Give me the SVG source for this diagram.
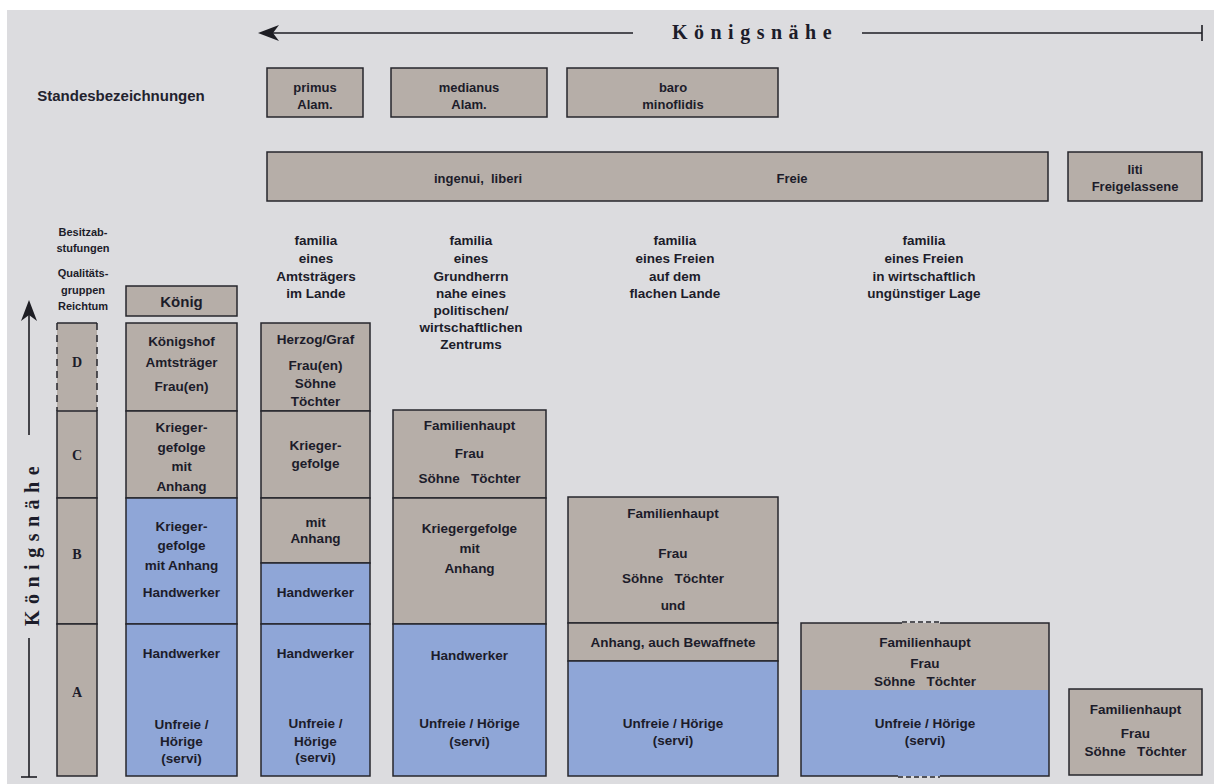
<svg xmlns="http://www.w3.org/2000/svg" width="1214" height="784" viewBox="0 0 1214 784">
<style>
.bx{stroke:#26262c;stroke-width:1.5}
.g{fill:#b6aea8}
.b{fill:#8fa6d7}
.ln{stroke:#1e1e24;stroke-width:1.6;fill:none}
text{font-family:"Liberation Sans",Arial,sans-serif;fill:#1c1c2a;text-anchor:middle;dominant-baseline:central}
.t{font-size:13.5px;font-weight:bold}
.s{font-size:13px;font-weight:bold}
.sm{font-size:11px;font-weight:bold}
.k{font-family:"Liberation Serif","Times New Roman",serif;font-size:20px;font-weight:bold;letter-spacing:6.5px}
.L{font-family:"Liberation Serif","Times New Roman",serif;font-size:14px;font-weight:bold}
</style>
<rect width="1214" height="784" fill="#ffffff"/>
<rect x="7" y="10" width="1207" height="774" fill="#dcdcdf"/>

<g id="connectors">
  <line class="ln" x1="270" y1="33" x2="633" y2="33"/>
  <polygon points="258,33 279,25 273,33 279,41" fill="#1e1e24"/>
  <line class="ln" x1="862" y1="33" x2="1202" y2="33"/>
  <line class="ln" x1="1202" y1="25" x2="1202" y2="41"/>
  <line class="ln" x1="29" y1="312" x2="29" y2="435"/>
  <polygon points="29,300 21,321 29,315 37,321" fill="#1e1e24"/>
  <line class="ln" x1="29" y1="638" x2="29" y2="777"/>
  <line class="ln" x1="21" y1="777" x2="37" y2="777"/>
</g>

<g id="title-top"><text class="k" x="755" y="32">Königsnähe</text></g>
<g id="title-left"><text class="k" transform="translate(32,543) rotate(-90)">Königsnähe</text></g>

<g id="standes-label"><text x="121" y="95" style="font-size:15px;font-weight:bold;fill:#22222e">Standesbezeichnungen</text></g>

<g id="primus"><rect class="bx g" x="267" y="68" width="96" height="49"/><text class="s" x="315" y="87">primus</text><text class="s" x="315" y="104">Alam.</text></g>
<g id="medianus"><rect class="bx g" x="391" y="68" width="156" height="49"/><text class="s" x="469" y="87">medianus</text><text class="s" x="469" y="104">Alam.</text></g>
<g id="baro"><rect class="bx g" x="567" y="68" width="211" height="49"/><text class="s" x="673" y="87">baro</text><text class="s" x="673" y="104">minoflidis</text></g>

<g id="freie"><rect class="bx g" x="267" y="152" width="781" height="49"/><text class="s" x="478" y="178" xml:space="preserve">ingenui,  liberi</text><text class="s" x="792" y="178">Freie</text></g>
<g id="liti"><rect class="bx g" x="1068" y="152" width="134" height="49"/><text class="s" x="1135" y="169">liti</text><text class="s" x="1135" y="186">Freigelassene</text></g>

<g id="left-labels">
  <text class="sm" x="83" y="232">Besitzab-</text>
  <text class="sm" x="83" y="248">stufungen</text>
  <text class="sm" x="83" y="273">Qualitäts-</text>
  <text class="sm" x="83" y="290">gruppen</text>
  <text class="sm" x="83" y="306">Reichtum</text>
</g>

<g id="header-amtstraeger">
  <text class="t" x="316" y="240">familia</text><text class="t" x="316" y="258">eines</text><text class="t" x="316" y="276">Amtsträgers</text><text class="t" x="316" y="293">im Lande</text>
</g>
<g id="header-grundherr">
  <text class="t" x="471" y="240">familia</text><text class="t" x="471" y="258">eines</text><text class="t" x="471" y="276">Grundherrn</text><text class="t" x="471" y="293">nahe eines</text><text class="t" x="471" y="310">politischen/</text><text class="t" x="471" y="327">wirtschaftlichen</text><text class="t" x="471" y="344">Zentrums</text>
</g>
<g id="header-freier-land">
  <text class="t" x="675" y="240">familia</text><text class="t" x="675" y="258">eines Freien</text><text class="t" x="675" y="276">auf dem</text><text class="t" x="675" y="293">flachen Lande</text>
</g>
<g id="header-freier-arm">
  <text class="t" x="924" y="240">familia</text><text class="t" x="924" y="258">eines Freien</text><text class="t" x="924" y="276">in wirtschaftlich</text><text class="t" x="924" y="293">ungünstiger Lage</text>
</g>

<g id="stufen">
  <rect class="g" x="57" y="323" width="40" height="88"/>
  <line class="bx" x1="57" y1="323" x2="97" y2="323"/>
  <line class="bx" x1="57" y1="323" x2="57" y2="411" stroke-dasharray="7,5"/>
  <line class="bx" x1="97" y1="323" x2="97" y2="411" stroke-dasharray="7,5"/>
  <text class="L" x="77" y="362">D</text>
  <rect class="bx g" x="57" y="411" width="40" height="87"/><text class="L" x="77" y="455">C</text>
  <rect class="bx g" x="57" y="498" width="40" height="126"/><text class="L" x="77" y="554">B</text>
  <rect class="bx g" x="57" y="624" width="40" height="152"/><text class="L" x="77" y="692">A</text>
</g>

<g id="koenig"><rect class="bx g" x="126" y="286" width="111" height="30"/><text x="181.5" y="301" style="font-size:15px;font-weight:bold">König</text></g>

<g id="col-koenigshof">
  <rect class="bx g" x="126" y="323" width="111" height="88"/>
  <text class="t" x="181.5" y="341">Königshof</text><text class="t" x="181.5" y="362">Amtsträger</text><text class="t" x="181.5" y="386">Frau(en)</text>
  <rect class="bx g" x="126" y="411" width="111" height="87"/>
  <text class="t" x="181.5" y="427">Krieger-</text><text class="t" x="181.5" y="447">gefolge</text><text class="t" x="181.5" y="466">mit</text><text class="t" x="181.5" y="486">Anhang</text>
  <rect class="bx b" x="126" y="498" width="111" height="126"/>
  <text class="t" x="181.5" y="526">Krieger-</text><text class="t" x="181.5" y="545">gefolge</text><text class="t" x="181.5" y="565">mit Anhang</text><text class="t" x="181.5" y="592">Handwerker</text>
  <rect class="bx b" x="126" y="624" width="111" height="152"/>
  <text class="t" x="181.5" y="653">Handwerker</text><text class="t" x="181.5" y="724">Unfreie /</text><text class="t" x="181.5" y="741">Hörige</text><text class="t" x="181.5" y="758">(servi)</text>
</g>

<g id="col-amtstraeger">
  <rect class="bx g" x="261" y="323" width="109" height="88"/>
  <text class="t" x="315.5" y="339">Herzog/Graf</text><text class="t" x="315.5" y="365">Frau(en)</text><text class="t" x="315.5" y="383">Söhne</text><text class="t" x="315.5" y="401">Töchter</text>
  <rect class="bx g" x="261" y="411" width="109" height="87"/>
  <text class="t" x="315.5" y="445">Krieger-</text><text class="t" x="315.5" y="463">gefolge</text>
  <rect class="bx g" x="261" y="498" width="109" height="65"/>
  <text class="t" x="315.5" y="522">mit</text><text class="t" x="315.5" y="538">Anhang</text>
  <rect class="bx b" x="261" y="563" width="109" height="61"/>
  <text class="t" x="315.5" y="592">Handwerker</text>
  <rect class="bx b" x="261" y="624" width="109" height="152"/>
  <text class="t" x="315.5" y="653">Handwerker</text><text class="t" x="315.5" y="723">Unfreie /</text><text class="t" x="315.5" y="741">Hörige</text><text class="t" x="315.5" y="757">(servi)</text>
</g>

<g id="col-grundherr">
  <rect class="bx g" x="393" y="410" width="153" height="88"/>
  <text class="t" x="469.5" y="425">Familienhaupt</text><text class="t" x="469.5" y="453">Frau</text><text class="t" x="469.5" y="478" xml:space="preserve">Söhne   Töchter</text>
  <rect class="bx g" x="393" y="498" width="153" height="126"/>
  <text class="t" x="469.5" y="528">Kriegergefolge</text><text class="t" x="469.5" y="548">mit</text><text class="t" x="469.5" y="568">Anhang</text>
  <rect class="bx b" x="393" y="624" width="153" height="152"/>
  <text class="t" x="469.5" y="655">Handwerker</text><text class="t" x="469.5" y="723">Unfreie / Hörige</text><text class="t" x="469.5" y="741">(servi)</text>
</g>

<g id="col-freier-land">
  <rect class="bx g" x="568" y="497" width="210" height="126"/>
  <text class="t" x="673" y="513">Familienhaupt</text><text class="t" x="673" y="553">Frau</text><text class="t" x="673" y="578" xml:space="preserve">Söhne   Töchter</text><text class="t" x="673" y="605">und</text>
  <rect class="bx g" x="568" y="623" width="210" height="38"/>
  <text class="t" x="673" y="642">Anhang, auch Bewaffnete</text>
  <rect class="bx b" x="568" y="661" width="210" height="115"/>
  <text class="t" x="673" y="723">Unfreie / Hörige</text><text class="t" x="673" y="740">(servi)</text>
</g>

<g id="col-freier-arm">
  <rect class="g" x="801" y="623" width="248" height="67"/>
  <rect class="b" x="801" y="690" width="248" height="86"/>
  <path class="bx" fill="none" d="M902,623 H801 V776 H898 M940,776 H1049 V623 H940"/>
  <line class="bx" x1="902" y1="622" x2="940" y2="622" stroke-dasharray="5,3"/>
  <line class="bx" x1="898" y1="777" x2="940" y2="777" stroke-dasharray="5,3"/>
  <text class="t" x="925" y="642">Familienhaupt</text><text class="t" x="925" y="663">Frau</text><text class="t" x="925" y="681" xml:space="preserve">Söhne   Töchter</text>
  <text class="t" x="925" y="723">Unfreie / Hörige</text><text class="t" x="925" y="740">(servi)</text>
</g>

<g id="col-liti">
  <rect class="bx g" x="1069" y="689" width="133" height="86"/>
  <text class="t" x="1135.5" y="709">Familienhaupt</text><text class="t" x="1135.5" y="733">Frau</text><text class="t" x="1135.5" y="751" xml:space="preserve">Söhne   Töchter</text>
</g>
</svg>
